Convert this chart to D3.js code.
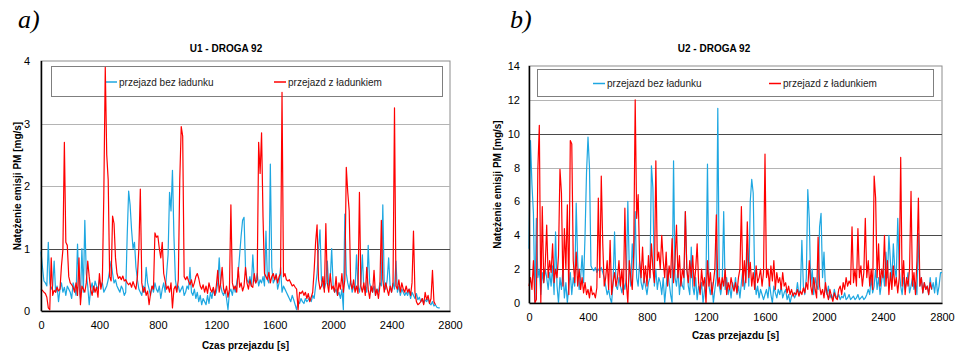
<!DOCTYPE html>
<html>
<head>
<meta charset="utf-8">
<script src="https://cdn.jsdelivr.net/npm/d3@7"></script>
<style>
  body { margin: 0; background: #fff; }
  svg { display: block; }
  text { font-family: "Liberation Sans", Arial, sans-serif; }
</style>
</head>
<body>
<div id="chart"></div>
<script>
// time step of the sampled series [s]
const STEP = 10;

// U1 - DROGA 92: bez ładunku (blue), z ładunkiem (red), mg/s
const u1Empty = [
  0.95,0.70,0.48,0.45,0.40,1.10,0.45,0.35,0.40,0.80,
  0.30,0.40,0.15,0.35,0.45,0.30,0.38,0.25,0.40,0.35,
  0.30,0.20,0.45,0.35,0.25,1.07,0.40,0.20,1.00,0.30,
  1.45,0.60,0.40,0.10,0.35,0.45,0.30,0.48,0.40,0.35,
  0.50,0.40,0.45,0.30,0.35,0.40,0.50,0.65,0.80,0.60,
  0.45,0.50,0.40,0.35,0.30,0.40,0.35,0.25,0.30,1.20,
  1.92,1.70,1.30,1.00,1.10,0.70,0.50,0.35,0.30,0.25,
  0.40,0.30,0.70,0.45,0.35,0.25,0.40,0.30,0.45,0.35,
  0.30,0.40,0.20,0.35,0.45,0.30,0.60,0.90,1.90,1.60,
  2.25,1.20,0.50,0.35,0.40,0.30,0.35,0.40,0.25,0.30,
  0.40,0.35,0.70,0.30,0.25,0.35,0.20,0.30,0.15,0.25,
  0.10,0.20,0.15,0.10,0.25,0.12,0.30,0.20,0.35,0.25,
  0.30,0.45,0.85,0.40,0.30,0.25,0.35,0.20,0.02,0.30,
  0.35,0.25,0.40,0.30,0.45,0.60,0.90,1.20,1.45,1.50,
  0.70,0.50,0.45,0.55,0.40,0.90,0.50,0.45,0.60,0.40,
  0.50,0.45,0.55,0.40,1.28,0.50,0.45,2.35,0.70,0.45,
  0.50,0.60,0.35,0.45,0.70,0.30,0.40,0.35,0.30,0.25,
  0.20,0.15,0.25,0.18,0.10,0.02,0.15,0.12,0.20,0.15,
  0.12,0.20,0.15,0.18,0.22,0.15,0.25,0.20,0.40,0.60,
  1.00,1.30,0.50,0.40,0.35,0.45,0.80,0.40,0.50,1.00,
  0.40,0.30,0.35,0.25,0.30,0.20,0.35,0.02,1.55,0.60,
  0.45,0.35,0.50,0.30,0.40,0.35,0.90,0.40,0.30,0.45,
  0.90,0.35,0.40,0.30,1.05,0.45,0.35,0.30,0.40,0.25,
  0.35,0.30,0.45,0.40,1.70,0.40,0.35,0.50,0.85,0.40,
  0.30,0.45,0.35,0.80,0.30,0.40,0.25,0.35,0.30,0.25,
  0.30,0.25,0.35,0.20,0.30,0.25,0.20,0.28,0.18,0.22,
  0.15,0.20,0.12,0.18,0.15,0.20,0.12,0.10,0.15,0.08,
  0.10,0.06,0.05,0.05
];
const u1Loaded = [
  0.35,0.33,0.30,0.28,0.22,0.05,0.02,0.85,0.25,0.33,
  0.30,0.38,0.32,0.35,0.72,0.98,2.70,1.10,1.05,0.55,
  0.45,0.42,0.38,0.30,0.45,0.25,0.85,0.10,0.40,0.35,
  0.30,0.45,0.80,0.55,0.35,0.25,0.40,0.30,0.38,0.22,
  0.60,0.35,0.48,1.85,3.90,2.50,2.10,0.55,0.48,1.52,
  1.40,0.85,0.60,0.52,0.55,0.50,0.56,0.48,0.50,0.45,
  0.42,0.45,0.38,0.47,0.40,0.35,0.55,1.00,1.95,0.45,
  0.30,0.38,0.25,0.32,0.10,0.28,0.40,0.35,1.25,1.18,
  1.20,1.00,0.85,1.10,0.60,0.48,0.35,0.40,0.30,0.45,
  0.05,0.35,0.40,0.30,0.50,2.10,2.95,2.80,0.55,0.50,
  0.55,0.48,0.42,0.50,0.38,0.45,0.55,0.60,0.52,0.40,
  0.35,0.42,0.30,0.40,0.28,0.45,0.35,0.30,0.38,0.25,
  0.40,0.65,0.30,0.45,0.70,0.35,0.28,0.40,0.22,0.35,
  1.70,0.45,0.35,0.40,0.30,0.70,0.38,0.45,0.32,0.40,
  0.70,0.45,0.35,0.50,0.40,0.38,0.60,0.45,0.50,2.70,
  2.20,2.85,1.50,0.60,0.55,0.50,0.62,0.45,0.55,0.60,
  0.50,0.58,0.45,0.55,0.60,3.50,0.55,0.60,0.50,0.48,
  0.50,0.45,0.40,0.42,0.38,0.35,0.02,0.30,0.28,0.32,
  0.25,0.30,0.20,0.28,0.15,0.22,0.30,0.65,1.10,1.38,
  0.50,0.35,0.40,0.55,0.30,1.40,0.45,0.30,0.60,0.35,
  0.40,0.30,0.55,0.25,0.45,0.35,0.60,0.30,0.50,2.30,
  1.90,1.60,0.45,0.35,0.50,0.30,0.40,0.28,1.90,0.40,
  0.30,0.45,0.25,0.70,0.35,0.20,0.40,0.30,0.65,0.25,
  0.35,0.20,0.40,1.45,0.50,0.30,0.45,0.35,0.25,0.40,
  0.30,0.45,3.25,0.40,0.35,0.50,0.30,0.45,0.35,0.30,
  0.40,0.30,0.35,0.25,0.45,1.28,0.30,0.15,0.10,0.12,
  0.15,0.20,0.10,0.30,0.18,0.25,0.12,0.20,0.65,0.15,
  0.10
];

// U2 - DROGA 92
const u2Empty = [
  3.2,9.6,7.0,5.3,0.0,5.0,1.5,2.0,0.5,1.8,
  1.2,2.0,1.5,0.8,1.8,1.0,2.2,0.5,4.2,1.0,
  0.0,1.5,0.8,2.0,0.3,1.2,0.0,1.0,1.8,0.5,
  1.5,1.0,5.9,2.5,0.8,1.5,2.8,1.2,4.0,7.7,
  9.8,8.0,2.2,2.0,1.9,2.1,1.8,2.0,1.9,2.1,
  1.8,1.5,1.0,0.5,0.8,0.3,0.0,1.2,4.2,1.0,
  0.8,1.5,1.0,0.6,1.2,0.8,1.5,6.0,2.0,1.0,
  3.5,2.0,5.4,1.5,1.0,2.5,1.2,0.8,1.5,1.0,
  0.5,1.2,1.5,8.1,6.8,1.0,2.0,0.8,1.5,1.2,
  0.5,1.5,0.0,1.0,2.0,1.2,0.5,0.0,8.4,1.5,
  1.0,2.0,0.5,1.5,1.0,0.8,5.4,2.0,1.0,0.5,
  3.3,1.0,0.5,1.5,0.2,1.0,0.6,1.2,0.0,0.8,
  1.5,8.2,1.0,0.5,1.2,0.0,0.8,1.5,11.5,1.0,
  0.5,1.2,5.4,0.8,1.5,0.5,1.0,0.3,1.2,0.8,
  1.5,0.5,1.0,0.3,1.2,2.0,0.8,1.5,3.5,1.0,
  6.0,7.3,6.5,1.5,0.5,1.0,0.3,0.8,0.5,0.2,
  0.5,0.8,0.3,1.2,0.5,0.0,1.0,0.6,0.3,0.8,
  0.5,1.0,0.3,0.6,0.8,0.2,0.5,0.0,0.4,0.6,
  0.3,0.5,1.2,0.5,0.8,3.7,1.0,0.5,1.5,6.7,
  5.0,1.0,2.0,0.5,1.5,1.0,0.8,4.5,5.3,1.5,
  3.0,0.8,0.5,1.0,0.3,0.5,0.2,0.8,0.4,0.3,
  0.5,0.2,0.4,0.3,0.6,0.2,0.3,0.5,0.2,0.3,
  0.4,0.2,0.3,0.5,0.2,0.3,0.4,0.2,0.3,0.5,
  0.8,0.5,1.5,0.6,1.0,2.0,0.8,1.5,0.5,1.2,
  2.0,1.0,3.0,1.5,4.0,2.5,1.2,3.5,2.0,1.5,
  5.0,2.0,1.0,0.5,1.5,0.8,1.2,1.8,0.6,1.0,
  1.5,0.8,1.2,0.5,4.1,1.0,1.5,0.6,1.2,0.8,
  1.0,0.5,1.5,0.8,1.2,0.6,1.5,0.5,1.0,1.8,1.8
];
const u2Loaded = [
  1.0,1.5,0.8,2.5,0.0,0.2,7.9,10.5,0.0,5.7,
  1.2,2.2,4.6,1.5,2.5,1.8,3.5,1.2,2.0,1.5,
  2.8,7.9,6.5,1.0,4.4,2.0,5.8,0.5,9.6,9.4,
  2.5,1.2,3.0,1.0,2.0,0.8,1.5,0.6,1.2,0.5,
  0.8,0.3,1.0,0.5,0.6,0.3,0.9,6.2,1.5,7.5,
  3.5,1.0,1.5,2.5,0.8,3.7,0.5,1.2,1.8,1.0,
  1.5,2.5,1.0,2.0,0.5,5.6,1.2,0.0,2.5,1.5,
  0.8,3.0,12.0,5.0,6.4,2.5,1.5,3.3,1.2,2.2,
  1.0,2.8,1.5,3.5,2.0,1.2,8.4,2.5,3.0,2.0,
  4.0,2.5,1.5,3.0,1.0,2.2,1.5,3.8,1.2,2.5,
  4.6,1.5,2.8,1.0,2.0,1.5,5.4,2.0,1.2,2.5,
  1.5,2.8,1.0,2.0,3.5,1.2,0.5,2.0,1.0,1.5,
  0.0,2.5,1.0,1.8,0.5,1.2,2.0,5.2,1.0,1.5,
  0.8,1.5,1.0,2.0,0.5,1.2,0.8,1.5,1.0,0.7,
  1.2,0.6,1.5,2.0,5.7,1.0,2.5,1.2,4.8,1.5,
  2.4,1.0,1.8,0.8,2.2,1.2,1.5,2.0,1.0,1.8,
  8.8,1.5,2.0,1.0,2.2,1.3,2.5,0.8,1.8,1.2,
  1.5,0.8,1.8,1.0,1.2,0.6,1.0,0.5,0.8,0.4,
  0.6,0.5,0.8,0.4,0.7,0.5,0.9,0.6,1.2,0.8,
  2.5,1.0,0.5,1.5,0.8,0.3,3.9,1.0,0.5,0.8,
  0.3,1.2,0.6,0.2,0.8,0.4,0.1,0.6,0.3,0.2,
  0.8,1.0,0.5,1.2,0.8,1.5,1.0,1.3,1.1,4.5,
  1.2,2.0,1.0,4.4,1.5,2.2,1.0,1.8,5.0,1.5,
  2.5,1.0,2.0,0.8,7.5,6.2,1.5,3.5,1.0,2.0,
  1.5,4.0,1.0,2.5,0.5,1.8,0.8,2.2,1.0,1.5,
  0.6,1.5,8.6,1.0,2.5,0.5,1.5,1.0,2.0,6.6,
  1.0,1.8,0.5,2.5,6.2,1.0,1.5,0.6,1.2,0.8,
  1.0,0.5,1.2,0.8
];

const xTicks = [0, 400, 800, 1200, 1600, 2000, 2400, 2800];
const u1YTicks = [0, 1, 2, 3, 4];
const u2YTicks = [0, 2, 4, 6, 8, 10, 12, 14];
const seriesNames = ['przejazd bez ładunku', 'przejazd z ładunkiem'];
const seriesColors = ['#1ea7e1', '#ff0000'];

const W = 955, H = 351;
const svg = d3.select('#chart').append('svg')
  .attr('width', W)
  .attr('height', H);

// one Excel-like panel
function drawPanel(cfg) {
  const g = svg.append('g');
  const x = d3.scaleLinear().domain([0, 2800]).range([cfg.left, cfg.right]);
  const y = d3.scaleLinear().domain([0, cfg.yMax]).range([cfg.bottom, cfg.top]);

  // panel letter
  g.append('text')
    .attr('x', cfg.letterX)
    .attr('y', 28)
    .style('font-family', '"Liberation Serif", "Times New Roman", serif')
    .style('font-style', 'italic')
    .style('font-size', '26px')
    .text(cfg.letter);

  // chart title
  g.append('text')
    .attr('x', cfg.titleX)
    .attr('y', 52)
    .attr('text-anchor', 'middle')
    .style('font-size', '10px')
    .style('font-weight', 'bold')
    .text(cfg.title);

  // plot area border
  g.append('rect')
    .attr('x', cfg.left)
    .attr('y', cfg.top)
    .attr('width', cfg.right - cfg.left)
    .attr('height', cfg.bottom - cfg.top)
    .style('fill', 'none')
    .style('stroke', '#8c8c8c')
    .style('stroke-width', 1);

  // grid lines
  g.selectAll('.grid')
    .data(cfg.yTicks.filter(d => d > 0 && d < cfg.yMax))
    .enter()
    .append('line')
    .attr('class', 'grid')
    .attr('x1', cfg.left)
    .attr('x2', cfg.right)
    .attr('y1', d => Math.round(y(d)) + 0.5)
    .attr('y2', d => Math.round(y(d)) + 0.5)
    .style('stroke', d => cfg.darkGrid.includes(d) ? '#4a4a4a' : '#b4b4b4')
    .style('stroke-width', 1);

  // legend (sits under the series, as in the source chart)
  const lg = g.append('g')
    .attr('transform', `translate(${cfg.legend.x}, ${cfg.legend.y})`);
  lg.append('rect')
    .attr('x', 0.5)
    .attr('y', 0.5)
    .attr('width', cfg.legend.w)
    .attr('height', cfg.legend.h)
    .style('fill', '#fff')
    .style('stroke', '#7f7f7f')
    .style('stroke-width', 1);

  const items = lg.selectAll('.legend-item')
    .data(seriesNames)
    .enter()
    .append('g')
    .attr('class', 'legend-item')
    .attr('transform', (d, i) => `translate(${cfg.legend.offsets[i]}, ${cfg.legend.h / 2 + 1})`);

  items.append('line')
    .attr('x1', 0)
    .attr('x2', 12)
    .style('stroke', (d, i) => seriesColors[i])
    .style('stroke-width', 1.5);

  items.append('text')
    .attr('x', 14)
    .attr('dy', '0.35em')
    .style('font-size', '10px')
    .style('fill', '#222')
    .text(d => d);

  // series lines
  const line = d3.line()
    .x((d, i) => x(i * STEP))
    .y(d => y(d));

  cfg.series.forEach((s, i) => {
    g.append('path')
      .datum(s)
      .attr('d', line)
      .style('fill', 'none')
      .style('stroke', seriesColors[i])
      .style('stroke-width', 1.2)
      .style('stroke-linejoin', 'round');
  });

  // axes
  const xAxis = g.append('g')
    .attr('transform', `translate(0, ${cfg.bottom})`)
    .call(d3.axisBottom(x).tickValues(xTicks).tickSize(0).tickPadding(10).tickFormat(d3.format('d')));
  const yAxis = g.append('g')
    .attr('transform', `translate(${cfg.left}, 0)`)
    .call(d3.axisLeft(y).tickValues(cfg.yTicks).tickSize(0).tickPadding(cfg.yPad).tickFormat(d3.format('d')));

  [xAxis, yAxis].forEach(a => {
    a.select('.domain').style('stroke', '#000').style('stroke-width', 1.5);
    a.selectAll('text')
      .style('font-family', '"Liberation Sans", Arial, sans-serif')
      .style('font-size', '11px')
      .style('fill', '#000');
  });
  yAxis.select('.domain').attr('d', `M0.5,${cfg.bottom}V${cfg.top}`);

  // axis titles
  g.append('text')
    .attr('x', (cfg.left + cfg.right) / 2)
    .attr('y', cfg.xTitleY)
    .attr('text-anchor', 'middle')
    .style('font-size', '10px')
    .style('font-weight', 'bold')
    .text('Czas przejazdu [s]');

  g.append('text')
    .attr('transform', `translate(${cfg.yTitleX}, ${(cfg.top + cfg.bottom) / 2}) rotate(-90)`)
    .attr('text-anchor', 'middle')
    .style('font-size', '10px')
    .style('font-weight', 'bold')
    .text('Natężenie emisji PM [mg/s]');
}

drawPanel({
  letter: 'a)', letterX: 18,
  title: 'U1 - DROGA 92', titleX: 226,
  left: 41, right: 450, top: 61, bottom: 311,
  yMax: 4, yTicks: u1YTicks, darkGrid: [1], yPad: 11,
  series: [u1Empty, u1Loaded],
  xTitleY: 349, yTitleX: 21,
  legend: { x: 51, y: 66, w: 391, h: 30, offsets: [54, 223] }
});

drawPanel({
  letter: 'b)', letterX: 510,
  title: 'U2 - DROGA 92', titleX: 714,
  left: 529, right: 942, top: 66, bottom: 303,
  yMax: 14, yTicks: u2YTicks, darkGrid: [2, 4, 10], yPad: 9,
  series: [u2Empty, u2Loaded],
  xTitleY: 339, yTitleX: 501,
  legend: { x: 537, y: 69, w: 396, h: 27, offsets: [56, 232] }
});
</script>
</body>
</html>
